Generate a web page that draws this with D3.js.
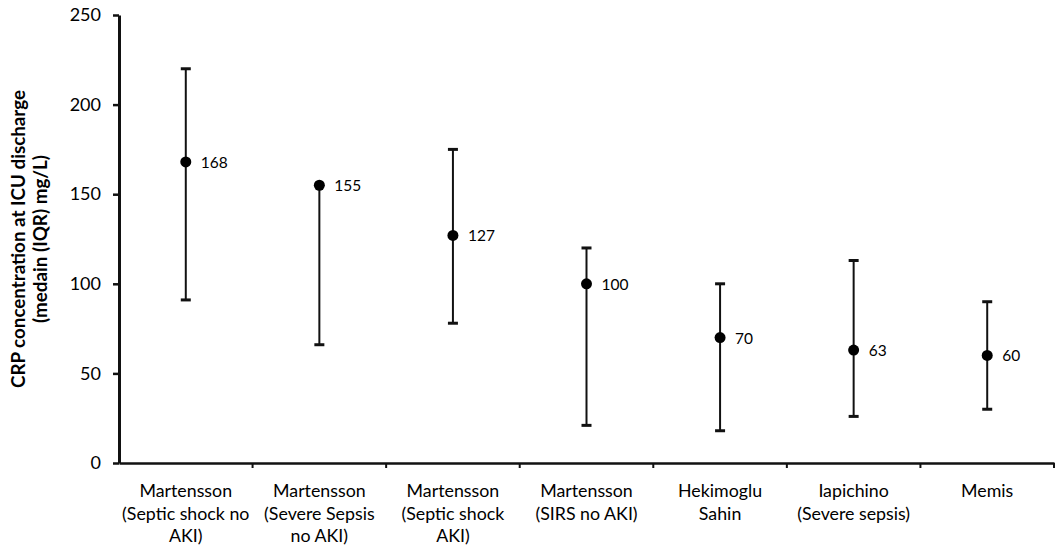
<!DOCTYPE html>
<html>
<head>
<meta charset="utf-8">
<script src="https://cdn.jsdelivr.net/npm/d3@7"></script>
<style>
  html, body { margin: 0; padding: 0; background: #fff; }
  svg { display: block; }
  text { font-family: Lato, "Open Sans", sans-serif; fill: #000; }
</style>
</head>
<body>
<svg id="chart" width="1059" height="549"></svg>
<script>
// Study groups (x axis), each label split into lines
const categories = [
  ["Martensson", "(Septic shock no", "AKI)"],
  ["Martensson", "(Severe Sepsis", "no AKI)"],
  ["Martensson", "(Septic shock", "AKI)"],
  ["Martensson", "(SIRS no AKI)"],
  ["Hekimoglu", "Sahin"],
  ["Iapichino", "(Severe sepsis)"],
  ["Memis"]
];
// CRP at ICU discharge, mg/L
const medians = [168, 155, 127, 100, 70, 63, 60];
const q1 = [91, 66, 78, 21, 18, 26, 30];
const q3 = [220, 155, 175, 120, 100, 113, 90];
const yTicks = [0, 50, 100, 150, 200, 250];

const svg = d3.select("#chart");
const margin = { left: 119, right: 5, top: 15, bottom: 86 };
const W = 1059, H = 549;

const x = d3.scaleBand()
  .domain(d3.range(categories.length))
  .range([margin.left, W - margin.right]);
const y = d3.scaleLinear().domain([0, 250]).range([H - margin.bottom, margin.top]);

const rows = categories.map((c, i) => ({ c, m: medians[i], lo: q1[i], hi: q3[i], i }));

// Y axis
const yAxis = svg.append("g")
  .attr("transform", `translate(${margin.left},0)`)
  .call(d3.axisLeft(y).tickValues(yTicks).tickSize(6).tickPadding(12).tickSizeOuter(0));
yAxis.select(".domain").attr("stroke", "#111").attr("stroke-width", 3);
yAxis.selectAll(".tick line").attr("stroke", "#111").attr("stroke-width", 2.5);
yAxis.selectAll(".tick text").style("font-size", "18px").attr("fill", "#000");

// X axis
const xAxis = svg.append("g")
  .attr("transform", `translate(0,${y(0)})`)
  .call(d3.axisBottom(x).tickSize(0).tickFormat(""));
xAxis.select(".domain").attr("stroke", "#111").attr("stroke-width", 2.5);
// Boundary ticks between groups
xAxis.selectAll(".sep").data(d3.range(1, categories.length + 1)).enter()
  .append("line").attr("class", "sep")
  .attr("x1", d => x(d - 1) + x.bandwidth()).attr("x2", d => x(d - 1) + x.bandwidth())
  .attr("y1", 0).attr("y2", 5)
  .attr("stroke", "#111").attr("stroke-width", 2);

// Category labels
const labels = svg.append("g");
rows.forEach(r => {
  const t = labels.append("text")
    .attr("x", x(r.i) + x.bandwidth() / 2)
    .attr("y", y(0) + 34)
    .attr("text-anchor", "middle")
    .style("font-size", "17.8px");
  r.c.forEach((line, k) => {
    t.append("tspan").attr("x", x(r.i) + x.bandwidth() / 2).attr("dy", k === 0 ? 0 : 22.5).text(line);
  });
});

// Y axis title
const titleY = 239;
svg.append("text")
  .attr("transform", `translate(25,${titleY}) rotate(-90)`)
  .attr("text-anchor", "middle")
  .style("font-size", "18.8px").style("font-weight", "bold")
  .text("CRP concentration at ICU discharge");
svg.append("text")
  .attr("transform", `translate(47,${titleY}) rotate(-90)`)
  .attr("text-anchor", "middle")
  .style("font-size", "18.8px").style("font-weight", "bold")
  .text("(medain (IQR) mg/L)");

// Error bars (IQR), medians and labels
const g = svg.append("g");
const cx = d => x(d.i) + x.bandwidth() / 2;
const capW = 5;

g.selectAll(".whisker").data(rows).enter().append("line")
  .attr("x1", cx).attr("x2", cx)
  .attr("y1", d => y(d.hi)).attr("y2", d => y(d.lo))
  .attr("stroke", "#111").attr("stroke-width", 2);

g.selectAll(".capHi").data(rows.filter(d => d.hi > d.m)).enter().append("line")
  .attr("x1", d => cx(d) - capW).attr("x2", d => cx(d) + capW)
  .attr("y1", d => y(d.hi)).attr("y2", d => y(d.hi))
  .attr("stroke", "#111").attr("stroke-width", 3);

g.selectAll(".capLo").data(rows).enter().append("line")
  .attr("x1", d => cx(d) - capW).attr("x2", d => cx(d) + capW)
  .attr("y1", d => y(d.lo)).attr("y2", d => y(d.lo))
  .attr("stroke", "#111").attr("stroke-width", 3);

g.selectAll(".dot").data(rows).enter().append("circle")
  .attr("cx", cx).attr("cy", d => y(d.m)).attr("r", 5.5)
  .attr("fill", "#000");

g.selectAll(".val").data(rows).enter().append("text")
  .attr("x", d => cx(d) + 15).attr("y", d => y(d.m) + 6)
  .style("font-size", "15.5px")
  .text(d => d.m);
</script>
</body>
</html>
